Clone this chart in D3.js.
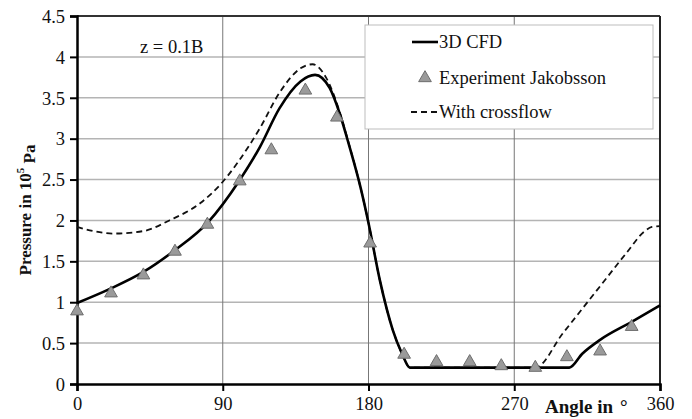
<!DOCTYPE html>
<html>
<head>
<meta charset="utf-8">
<script src="https://cdn.jsdelivr.net/npm/d3@7"></script>
<style>
  body { margin: 0; background: #fff; }
  svg text { font-family: 'Liberation Serif', 'DejaVu Serif', serif !important; fill: #111; }
</style>
</head>
<body>
<div id="chart"></div>
<script>
// angle in degrees, pressure in 10^5 Pa
var cfdAngle = [0, 20, 41, 60, 81, 100, 113, 125, 138, 147, 156, 162, 168, 175, 180, 187, 195, 200.5, 205.6, 230, 260, 290, 304, 312, 323, 342.5, 360];
var cfdValue = [0.99, 1.16, 1.37, 1.63, 1.98, 2.48, 2.90, 3.37, 3.70, 3.78, 3.62, 3.32, 2.92, 2.41, 1.97, 1.27, 0.66, 0.38, 0.20, 0.20, 0.20, 0.20, 0.20, 0.37, 0.54, 0.76, 0.96];

var crossAngle = [0, 10, 22, 41, 57, 76, 89, 100, 113, 125, 138, 145.5, 154, 162, 168, 175, 180, 187, 195, 200.5, 205.6, 230, 260, 283, 300, 320, 340, 350, 355, 360];
var crossValue = [1.92, 1.87, 1.84, 1.87, 2.0, 2.21, 2.45, 2.73, 3.13, 3.56, 3.86, 3.91, 3.74, 3.34, 2.93, 2.41, 1.97, 1.27, 0.66, 0.38, 0.20, 0.20, 0.20, 0.20, 0.62, 1.12, 1.62, 1.86, 1.92, 1.93];

var expAngle = [0, 21, 41, 60.5, 80.5, 100.5, 120, 141, 160.5, 181, 202, 222, 242.5, 262, 283, 302.5, 323, 342.5];
var expValue = [0.89, 1.11, 1.33, 1.62, 1.95, 2.48, 2.86, 3.59, 3.26, 1.72, 0.36, 0.27, 0.27, 0.22, 0.20, 0.33, 0.40, 0.70];

var xTicks = [0, 90, 180, 270, 360];
var yTicks = [0, 0.5, 1, 1.5, 2, 2.5, 3, 3.5, 4, 4.5];
var legendLabels = ["3D CFD", "Experiment Jakobsson", "With crossflow"];

var W = 692, H = 419;
var margin = {top: 16, right: 32, bottom: 35, left: 77};
var width = W - margin.left - margin.right,
    height = H - margin.top - margin.bottom;

var svg = d3.select("#chart").append("svg")
    .attr("width", W)
    .attr("height", H);

var g = svg.append("g")
    .attr("transform", "translate(" + margin.left + "," + margin.top + ")");

var x = d3.scaleLinear().domain([0, 360]).range([0, width]);
var y = d3.scaleLinear().domain([0, 4.5]).range([height, 0]);

// horizontal grid
g.selectAll(".hgrid")
    .data(yTicks.filter(function(d) { return d > 0 && d < 4.5; }))
    .enter().append("line")
    .attr("x1", 0).attr("x2", width)
    .attr("y1", function(d) { return y(d); })
    .attr("y2", function(d) { return y(d); })
    .attr("stroke", "#b4b4b4")
    .attr("stroke-width", 1.5);

// vertical grid
g.selectAll(".vgrid")
    .data(xTicks.filter(function(d) { return d > 0 && d < 360; }))
    .enter().append("line")
    .attr("x1", function(d) { return x(d); })
    .attr("x2", function(d) { return x(d); })
    .attr("y1", 0).attr("y2", height)
    .attr("stroke", "#777")
    .attr("stroke-width", 1);

// frame top / right
g.append("line").attr("x1", 0).attr("x2", width).attr("y1", 0).attr("y2", 0)
    .attr("stroke", "#333").attr("stroke-width", 2);
g.append("line").attr("x1", width).attr("x2", width).attr("y1", 0).attr("y2", height)
    .attr("stroke", "#222").attr("stroke-width", 2);

// axes
var yAxis = g.append("g")
    .call(d3.axisLeft(y).tickValues(yTicks).tickSize(7).tickPadding(5)
        .tickFormat(function(d) { return String(d); }));
var xAxis = g.append("g")
    .attr("transform", "translate(0," + height + ")")
    .call(d3.axisBottom(x).tickValues(xTicks).tickSize(7).tickPadding(6)
        .tickFormat(function(d) { return String(d); }));

[xAxis, yAxis].forEach(function(a) {
    a.attr("font-family", null);
    a.select(".domain").attr("stroke", "#000").attr("stroke-width", 2.5);
    a.selectAll(".tick line").attr("stroke", "#000").attr("stroke-width", 2);
    a.selectAll(".tick text")
        .attr("font-size", 18.5)
        .attr("fill", "#111");
});
yAxis.selectAll(".tick text").attr("dy", "0.34em");

// lines
var line = d3.line()
    .x(function(d) { return x(d[0]); })
    .y(function(d) { return y(d[1]); })
    .curve(d3.curveMonotoneX);

var crossData = d3.zip(crossAngle, crossValue);
var cfdData = d3.zip(cfdAngle, cfdValue);
var expData = d3.zip(expAngle, expValue);

g.append("path")
    .datum(crossData)
    .attr("d", line)
    .attr("fill", "none")
    .attr("stroke", "#111")
    .attr("stroke-width", 1.8)
    .attr("stroke-dasharray", "6,4");

g.append("path")
    .datum(cfdData)
    .attr("d", line)
    .attr("fill", "none")
    .attr("stroke", "#000")
    .attr("stroke-width", 2.6);

var tri = d3.symbol().type(d3.symbolTriangle).size(70);

g.selectAll(".exp")
    .data(expData)
    .enter().append("path")
    .attr("d", tri)
    .attr("transform", function(d) { return "translate(" + x(d[0]) + "," + y(d[1]) + ")"; })
    .attr("fill", "#9a9a9a")
    .attr("stroke", "#6e6e6e")
    .attr("stroke-width", 1);

// annotation
svg.append("text")
    .attr("x", 140).attr("y", 53)
    .attr("font-size", 18.5)
    .text("z = 0.1B");

// legend
var lg = svg.append("g");
lg.append("rect")
    .attr("x", 365).attr("y", 25)
    .attr("width", 288).attr("height", 104)
    .attr("fill", "#fff")
    .attr("stroke", "#bdbdbd")
    .attr("stroke-width", 1);

var rowY = [42, 78, 112];
lg.append("line").attr("x1", 412).attr("x2", 438).attr("y1", rowY[0]).attr("y2", rowY[0])
    .attr("stroke", "#000").attr("stroke-width", 2.6);
lg.append("path").attr("d", tri)
    .attr("transform", "translate(425," + rowY[1] + ")")
    .attr("fill", "#9a9a9a").attr("stroke", "#6e6e6e").attr("stroke-width", 1);
lg.append("line").attr("x1", 411).attr("x2", 438).attr("y1", rowY[2]).attr("y2", rowY[2])
    .attr("stroke", "#111").attr("stroke-width", 1.8).attr("stroke-dasharray", "6,4");

lg.selectAll(".ltext")
    .data(legendLabels)
    .enter().append("text")
    .attr("x", 439)
    .attr("y", function(d, i) { return rowY[i]; })
    .attr("dy", "0.35em")
    .attr("font-size", 18.5)
    .text(function(d) { return d; });

// axis titles
var xt = svg.append("text")
    .attr("y", 413)
    .attr("font-size", 19)
    .attr("font-weight", "bold");
xt.append("tspan").attr("x", 545).text("Angle in");
xt.append("tspan").attr("x", 620).text("\u00b0");

var yt = svg.append("text")
    .attr("transform", "translate(31,210) rotate(-90)")
    .attr("text-anchor", "middle")
    .attr("font-size", 17)
    .attr("font-weight", "bold");
yt.append("tspan").text("Pressure in 10");
yt.append("tspan").attr("font-size", 11).attr("dy", "-0.6em").text("5");
yt.append("tspan").attr("dy", "0.6em").text(" Pa");
</script>
</body>
</html>
